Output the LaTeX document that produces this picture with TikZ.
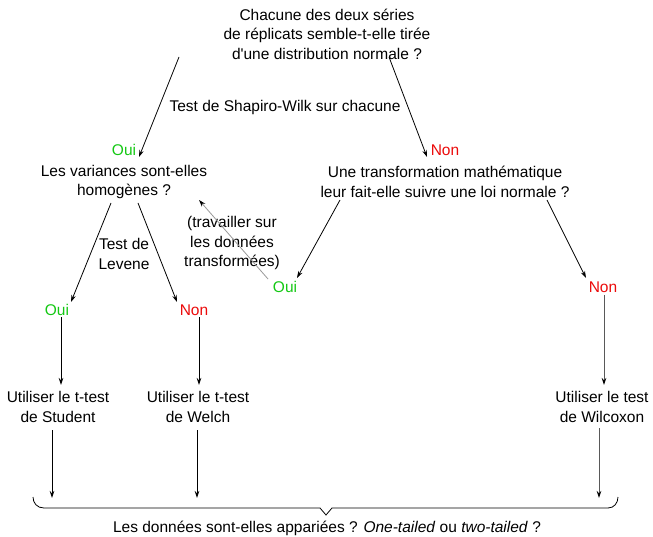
\documentclass[tikz,border=0pt]{standalone}
\usepackage{fontspec}
\setmainfont{Liberation Sans}
\usetikzlibrary{arrows.meta,calc}
\definecolor{ouigreen}{RGB}{20,200,20}
\definecolor{nonred}{RGB}{235,10,10}
\tikzset{
  txt/.style={inner sep=0pt, align=center, font=\fontsize{15.5}{19.5}\selectfont},
  oui/.style={txt, text=ouigreen},
  non/.style={txt, text=nonred},
  arr/.style={line width=0.8pt, -{Stealth[length=7pt,width=4.5pt]}},
  garr/.style={line width=0.8pt, draw=black!40, -{Stealth[length=7pt,width=4.5pt,color=black]}},
  darr/.style={line width=0.8pt, draw=black!65, -{Stealth[length=7pt,width=4.5pt,color=black]}},
}
\begin{document}
\begin{tikzpicture}[x=1pt,y=-1pt]
\useasboundingbox (0,0) rectangle (653,537);
% nodes
\node[txt] (q1) at (327,34) {Chacune des deux séries\\de réplicats semble-t-elle tirée\\d\textquotesingle une distribution normale ?};
\node[txt] (shap) at (285,107) {Test de Shapiro-Wilk sur chacune};
\node[oui] (oui1) at (124,150) {Oui};
\node[non] (non1) at (445,150) {Non};
\node[txt] (var) at (124,182) {Les variances sont-elles\\homogènes ?};
\node[txt] (trans) at (445,182) {Une transformation mathématique\\leur fait-elle suivre une loi normale ?};
\node[txt] (lev) at (124,254) {Test de\\Levene};
\node[txt] (trav) at (232,243) {(travailler sur\\les données\\transformées)};
\node[oui] (oui3) at (285,287) {Oui};
\node[non] (non3) at (603,287) {Non};
\node[oui] (oui2) at (57,310) {Oui};
\node[non] (non2) at (194,310) {Non};
\node[txt] (stud) at (58,407) {Utiliser le t-test\\de Student};
\node[txt] (welch) at (198,407) {Utiliser le t-test\\de Welch};
\node[txt] (wil) at (602,407) {Utiliser le test\\de Wilcoxon};
\node[txt] (fin) at (327,528) {Les données sont-elles appariées ? \textit{One-tailed} ou \textit{two-tailed} ?};
% brace end points
\coordinate (e1) at (52,498);
\coordinate (e2) at (197,498);
\coordinate (e3) at (599,498);
% connectors
\draw[arr] ([shift={(-148,23)}]q1.center) -- ([shift={(15,7)}]oui1.center);
\draw[arr] ([shift={(62,23)}]q1.center) -- ([shift={(-18,7)}]non1.center);
\draw[arr] ([shift={(-13,21)}]var.center) -- ([shift={(14,-8)}]oui2.center);
\draw[arr] ([shift={(14,21)}]var.center) -- ([shift={(-17,-8)}]non2.center);
\draw[arr] ([shift={(-105,18)}]trans.center) -- ([shift={(12,-9)}]oui3.center);
\draw[arr] ([shift={(102,18)}]trans.center) -- ([shift={(-17,-9)}]non3.center);
\draw[garr] ([shift={(-17,-8)}]oui3.center) -- ([shift={(75,18)}]var.center);
\draw[arr] ([shift={(4,7)}]oui2.center) -- ([shift={(3,-22)}]stud.center);
\draw[arr] ([shift={(5,7)}]non2.center) -- ([shift={(1,-22)}]welch.center);
\draw[darr] ([shift={(1,8)}]non3.center) -- ([shift={(2,-22)}]wil.center);
\draw[arr] ([shift={(-6,23)}]stud.center) -- (e1);
\draw[arr] ([shift={(-1,23)}]welch.center) -- (e2);
\draw[darr] ([shift={(-3,21)}]wil.center) -- (e3);
% brace
\draw[line width=0.8pt] (33,497)
  .. controls (33,503) and (37,508) .. (44,508) -- (320,508) -- (326,515) -- (332,508) -- (608,508)
  .. controls (614,508) and (618,503) .. (618,497);
\end{tikzpicture}
\end{document}
